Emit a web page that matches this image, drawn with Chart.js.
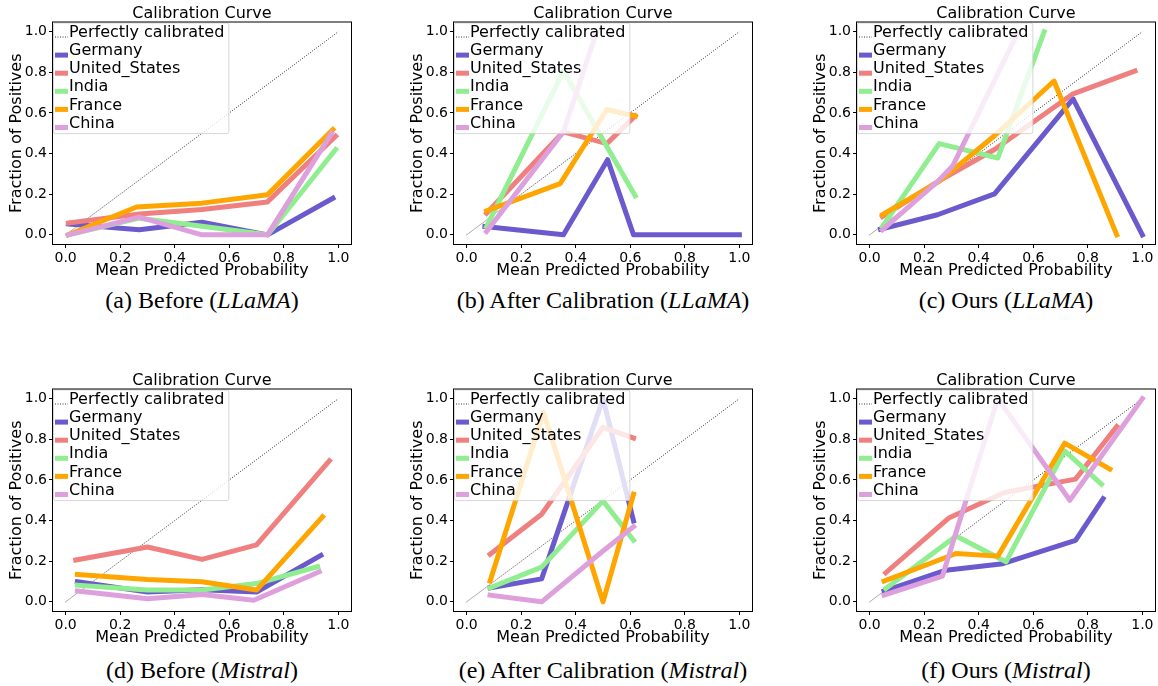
<!DOCTYPE html>
<html>
<head>
<meta charset="utf-8">
<script src="https://cdn.jsdelivr.net/npm/chart.js@4"></script>
<style>
  body { margin: 0; background: #fff; overflow: hidden; }
  #fig { position: relative; width: 1158px; height: 686px; }
  canvas { position: absolute; }
  .cap {
    position: absolute; width: 404px; text-align: center; white-space: nowrap;
    font-family: "Liberation Serif", serif; font-size: 24px; color: #000;
    line-height: 30px;
  }
</style>
</head>
<body>
<div id="fig"></div>
<script>
const countries = ["Germany", "United_States", "India", "France", "China"];
const colors = ["#6A5ACD", "#F08080", "#90EE90", "#FFA500", "#DDA0DD"];
const tickValues = [0, 0.2, 0.4, 0.6, 0.8, 1.0];
const tickLabels = ["0.0", "0.2", "0.4", "0.6", "0.8", "1.0"];
const diagX = [0, 1];
const diagY = [0, 1];

const captionTags = ["(a) Before", "(b) After Calibration", "(c) Ours", "(d) Before", "(e) After Calibration", "(f) Ours"];
const captionModels = ["LLaMA", "LLaMA", "LLaMA", "Mistral", "Mistral", "Mistral"];

// (a) before, LLaMA
const aX = [
  [0.01, 0.27, 0.50, 0.74, 0.98],
  [0.01, 0.27, 0.50, 0.74, 0.99],
  [0.01, 0.27, 0.50, 0.74, 0.99],
  [0.01, 0.26, 0.50, 0.74, 0.98],
  [0.01, 0.27, 0.50, 0.74, 0.975]
];
const aY = [
  [0.054, 0.025, 0.062, 0, 0.18],
  [0.058, 0.103, 0.125, 0.162, 0.485],
  [0, 0.082, 0.042, 0, 0.42],
  [0, 0.137, 0.156, 0.197, 0.518],
  [0, 0.087, 0, 0, 0.50]
];
// (b) after calibration, LLaMA
const bX = [
  [0.067, 0.355, 0.517, 0.612, 1.0],
  [0.073, 0.355, 0.514, 0.618],
  [0.073, 0.355, 0.618],
  [0.073, 0.343, 0.514, 0.618],
  [0.073, 0.355, 0.477]
];
const bY = [
  [0.041, 0, 0.37, 0, 0],
  [0.107, 0.507, 0.449, 0.585],
  [0.04, 0.806, 0.192],
  [0.118, 0.252, 0.617, 0.585],
  [0.016, 0.507, 1.0]
];
// (c) ours, LLaMA
const cX = [
  [0.04, 0.249, 0.458, 0.746, 1.0],
  [0.047, 0.26, 0.458, 0.746, 0.973],
  [0.047, 0.255, 0.47, 0.64],
  [0.047, 0.255, 0.46, 0.676, 0.906],
  [0.047, 0.25, 0.305, 0.545]
];
const cY = [
  [0.028, 0.099, 0.202, 0.669, 0],
  [0.09, 0.27, 0.42, 0.694, 0.806],
  [0.041, 0.449, 0.378, 1.0],
  [0.099, 0.263, 0.49, 0.757, 0],
  [0.025, 0.263, 0.34, 1.0]
];
// (d) before, Mistral
const dX = [
  [0.043, 0.30, 0.50, 0.70, 0.936],
  [0.037, 0.30, 0.50, 0.70, 0.967],
  [0.043, 0.30, 0.50, 0.70, 0.924],
  [0.043, 0.30, 0.50, 0.70, 0.942],
  [0.043, 0.30, 0.50, 0.69, 0.93]
];
const dY = [
  [0.099, 0.048, 0.06, 0.048, 0.229],
  [0.206, 0.27, 0.209, 0.28, 0.694],
  [0.082, 0.058, 0.058, 0.09, 0.173],
  [0.135, 0.11, 0.099, 0.058, 0.419],
  [0.053, 0.015, 0.036, 0.008, 0.148]
];
// (e) after calibration, Mistral
const eX = [
  [0.086, 0.275, 0.50, 0.612],
  [0.086, 0.275, 0.50, 0.612],
  [0.086, 0.275, 0.50, 0.612],
  [0.086, 0.282, 0.50, 0.612],
  [0.086, 0.275, 0.50, 0.612]
];
const eY = [
  [0.069, 0.113, 1.0, 0.398],
  [0.234, 0.431, 0.859, 0.806],
  [0.069, 0.171, 0.497, 0.303],
  [0.102, 0.933, 0, 0.53],
  [0.033, 0, 0.25, 0.37]
];
// (f) ours, Mistral
const fX = [
  [0.053, 0.28, 0.488, 0.755, 0.856],
  [0.059, 0.292, 0.494, 0.755, 0.906],
  [0.059, 0.317, 0.50, 0.715, 0.85],
  [0.053, 0.317, 0.47, 0.715, 0.881],
  [0.053, 0.267, 0.47, 0.734, 1.0]
];
const fY = [
  [0.053, 0.156, 0.188, 0.303, 0.508],
  [0.143, 0.414, 0.538, 0.604, 0.863],
  [0.066, 0.324, 0.197, 0.743, 0.579],
  [0.102, 0.238, 0.225, 0.781, 0.653],
  [0.033, 0.127, 1.0, 0.5, 1.0]
];

const panels = [[aX, aY], [bX, bY], [cX, cY], [dX, dY], [eX, eY], [fX, fY]];

Chart.defaults.font.family = "'DejaVu Sans', sans-serif";
Chart.defaults.color = "#000";

// legend drawn inside the axes like matplotlib, plus the box frame
const innerLegend = {
  id: "innerLegend",
  afterDatasetsDraw(chart) {
    const { ctx, chartArea: a } = chart;
    const sets = chart.data.datasets;
    ctx.save();
    ctx.font = "16px 'DejaVu Sans'";
    const textW = Math.max(...sets.map(d => ctx.measureText(d.label).width));
    const x0 = a.left + 1, y0 = a.top + 1;
    const w = textW + 20, h = sets.length * 18.1 + 2;
    ctx.fillStyle = "rgba(255,255,255,0.8)";
    ctx.strokeStyle = "rgba(204,204,204,0.8)";
    ctx.lineWidth = 1;
    ctx.beginPath();
    ctx.roundRect(x0 + 0.5, y0 + 0.5, w, h, 2);
    ctx.fill();
    ctx.stroke();
    sets.forEach((d, i) => {
      const y = y0 + 10.5 + i * 18.1;
      ctx.strokeStyle = d.borderColor;
      ctx.lineWidth = d.borderWidth;
      ctx.setLineDash(d.borderDash || []);
      ctx.beginPath();
      ctx.moveTo(x0 + 2, y + 4);
      ctx.lineTo(x0 + 15, y + 4);
      ctx.stroke();
      ctx.setLineDash([]);
      ctx.fillStyle = "#000";
      ctx.textBaseline = "middle";
      ctx.fillText(d.label, x0 + 16, y);
    });
    ctx.strokeStyle = "#000";
    ctx.lineWidth = 1;
    ctx.strokeRect(a.left + 0.5, a.top + 0.5, a.right - a.left - 1, a.bottom - a.top - 1);
    ctx.restore();
  }
};

const fig = document.getElementById("fig");
const lefts = [0, 401, 804];
const tops = [0, 367];
const capTops = [285, 655];

panels.forEach(([xs, ys], p) => {
  const row = Math.floor(p / 3);
  const left = lefts[p % 3], top = tops[row];
  const cv = document.createElement("canvas");
  cv.width = 358; cv.height = 282;
  cv.style.left = left + "px"; cv.style.top = top + "px";
  fig.appendChild(cv);

  const cap = document.createElement("div");
  cap.className = "cap";
  cap.style.left = left + "px";
  cap.style.top = capTops[row] + "px";
  cap.innerHTML = captionTags[p] + " (<i>" + captionModels[p] + "</i>)";
  fig.appendChild(cap);

  const datasets = [{
    label: "Perfectly calibrated",
    data: diagX.map((x, j) => ({ x, y: diagY[j] })),
    borderColor: "#000", borderWidth: 0.8, borderDash: [1, 1.5], order: 10
  }].concat(countries.map((name, i) => ({
    label: name,
    data: xs[i].map((x, j) => ({ x, y: ys[i][j] })),
    borderColor: colors[i], borderWidth: 5, order: 9 - i,
    borderJoinStyle: "round", borderCapStyle: "square"
  })));

  const axis = (title, fit, titlePad) => ({
    type: "linear", min: -0.05, max: 1.05,
    afterBuildTicks: s => { s.ticks = tickValues.map(v => ({ value: v })); },
    afterFit: fit,
    grid: { display: true, drawOnChartArea: false, tickLength: 3, color: "#000" },
    border: { display: false },
    ticks: { font: { size: 14 }, padding: 2, maxRotation: 0, callback: (v, i) => tickLabels[i] },
    title: { display: true, text: title, font: { size: 16 }, padding: titlePad }
  });

  new Chart(cv, {
    type: "line",
    data: { datasets },
    options: {
      responsive: false,
      animation: false,
      layout: { padding: { left: 0, right: 6, top: 0, bottom: 2 } },
      elements: { point: { radius: 0 }, line: { tension: 0 } },
      plugins: {
        legend: { display: false },
        tooltip: { enabled: false },
        title: {
          display: true, text: "Calibration Curve", fullSize: false,
          font: { size: 16, weight: "normal", lineHeight: 1.0 }, padding: { top: 5.5, bottom: 0 }
        }
      },
      scales: {
        x: axis("Mean Predicted Probability", s => { s.height = 35; }, { top: 0, bottom: 0 }),
        y: axis("Fraction of Positives", s => { s.width = 52; }, { top: 7, bottom: 0 })
      }
    },
    plugins: [innerLegend]
  });
});
</script>
</body>
</html>
